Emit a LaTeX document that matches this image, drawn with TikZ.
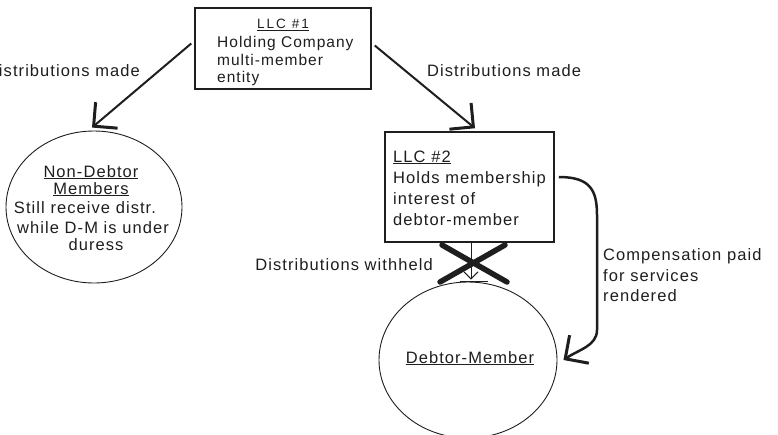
\documentclass[tikz,border=0pt]{standalone}
\usepackage{fontspec}
\setmainfont{Liberation Sans}[LetterSpace=6.5]
\newfontfamily\llcfont{Liberation Sans}[LetterSpace=15]
\usetikzlibrary{arrows.meta,shapes.geometric}
\definecolor{ink}{HTML}{1E1E1E}
\begin{document}
\begin{tikzpicture}[x=1pt,y=-1pt,
  txt/.style={inner sep=0pt, text=ink, font=\fontsize{16.5}{20}\selectfont},
  smalltxt/.style={inner sep=0pt, text=ink, font=\fontsize{15.5}{18}\selectfont},
  boxst/.style={draw=ink, line width=1.5pt, inner sep=0pt, rectangle},
  ell/.style={draw=ink, line width=0.9pt, ellipse, inner sep=0pt},
  flow/.style={draw=ink, line width=2pt, -{Straight Barb[length=17pt, width=34pt, line width=3pt]}},
  thinflow/.style={draw=ink, line width=1pt, -{Straight Barb[length=7pt, width=14pt, line width=1pt]}},
  curvedflow/.style={draw=ink, line width=2.5pt, -{Straight Barb[length=17pt, width=34pt, line width=3pt]}},
  cross/.style={draw=ink, line width=5.5pt, line cap=round}
]
\useasboundingbox (0,0) rectangle (778,434);

% shapes
\node[boxst, minimum width=176pt, minimum height=81pt] (llc1) at (283,48.5) {};
\node[boxst, minimum width=169pt, minimum height=110pt] (llc2) at (469.5,187) {};
\node[ell, minimum width=176pt, minimum height=152pt] (ndm) at (94,207) {};
\node[ell, minimum width=178pt, minimum height=156pt] (dm) at (468,360) {};

% texts in LLC #1
\node[inner sep=0pt, text=ink, font=\llcfont\fontsize{13.5}{16}\selectfont, anchor=base] (l1a) at (283,28.5) {\underline{LLC \#1}};
\node[smalltxt, anchor=base west] (l1b) at (217,47) {Holding Company};
\node[smalltxt, anchor=base west] (l1c) at (217,65) {multi-member};
\node[smalltxt, anchor=base west] (l1d) at (217,82) {entity};

% texts in LLC #2
\node[txt, anchor=base west] (l2a) at (393,162) {\underline{LLC \#2}};
\node[txt, anchor=base west] (l2b) at (393,183) {Holds membership};
\node[txt, anchor=base west] (l2c) at (393,204) {interest of};
\node[txt, anchor=base west] (l2d) at (393,225) {debtor-member};

% texts in Non-Debtor Members
\node[txt, anchor=base] (n1) at (91,177) {\underline{Non-Debtor}};
\node[txt, anchor=base] (n2) at (91,194) {\underline{Members}};
\node[txt, anchor=base] (n3) at (85,213) {Still receive distr.};
\node[txt, anchor=base] (n4) at (93,233) {while D-M is under};
\node[txt, anchor=base] (n5) at (96,250) {duress};

% text in Debtor-Member
\node[txt, anchor=base] (d1) at (470,363) {\underline{Debtor-Member}};

% labels
\node[txt, anchor=base east] (lab1) at (140,76) {Distributions made};
\node[txt, anchor=base west] (lab2) at (427,76) {Distributions made};
\node[txt, anchor=base east] (lab3) at (433,270) {Distributions withheld};
\node[txt, anchor=base west] (lab4) at (603,260) {Compensation paid};
\node[txt, anchor=base west] (lab5) at (603,281) {for services};
\node[txt, anchor=base west] (lab6) at (603,301) {rendered};

% connectors
\draw[flow] ([shift={(-3,-5)}]llc1.west) -- ([xshift=-2pt,yshift=3pt]ndm.north);
\draw[flow] ([shift={(3,-3)}]llc1.east) -- ([xshift=5.5pt,yshift=3pt]llc2.north);
\draw[thinflow] ([xshift=1.5pt]llc2.south) -- ([xshift=3pt,yshift=2pt]dm.north);
\draw[ink, line width=1pt] ([xshift=-8pt]dm.north) -- ([xshift=20pt]dm.north);
\draw[curvedflow] ([shift={(4,-10)}]llc2.east) .. controls (590,177) and (597,190) .. (597,215)
  -- (597,330) .. controls (597,346) and (578,350) .. ([xshift=6pt]dm.east);

% the cross over the withheld distributions
\draw[cross] (442,245) -- (507,282);
\draw[cross] (505,245) -- (440,282);
\end{tikzpicture}
\end{document}
